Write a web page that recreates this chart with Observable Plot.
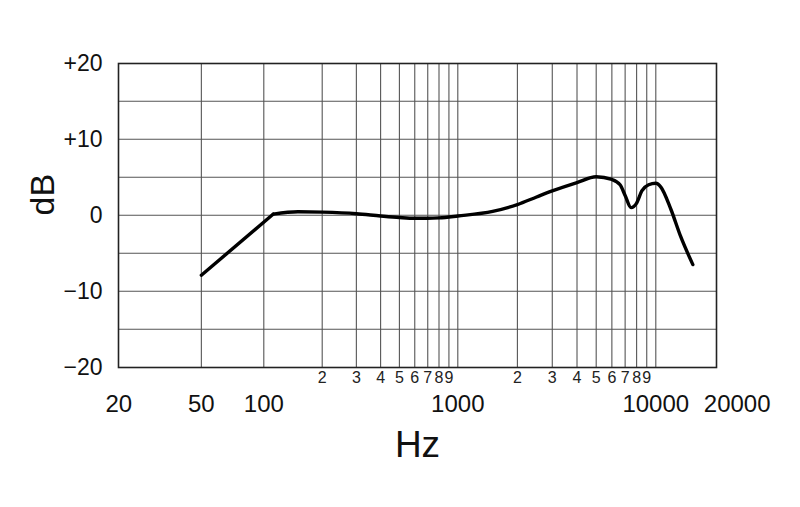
<!DOCTYPE html>
<html>
<head>
<meta charset="utf-8">
<script src="https://cdn.jsdelivr.net/npm/d3@7"></script>
<script src="https://cdn.jsdelivr.net/npm/@observablehq/plot@0.6"></script>
<style>
  html, body { margin: 0; padding: 0; background: #fff; }
  #chart svg { display: block; }
</style>
</head>
<body>
<div id="chart"></div>
<script>
// Frequency response data (Hz, dB)
const freq = [50, 112, 150, 200, 300, 400, 500, 600, 700, 800, 1000, 1500, 2000, 2500, 3000, 4000, 5000, 6000, 6600, 7000, 7500, 8000, 8500, 9200, 10000, 10600, 11900, 13300, 15300];
const db   = [-7.9, 0.15, 0.45, 0.4, 0.2, -0.1, -0.3, -0.4, -0.4, -0.35, -0.1, 0.5, 1.4, 2.4, 3.2, 4.3, 5.05, 4.7, 4.0, 2.6, 1.0, 1.6, 3.2, 4.0, 4.2, 3.7, 0.75, -2.8, -6.5];

// Grid and tick labels
const gridX = [50, 100, 200, 300, 400, 500, 600, 700, 800, 900, 1000, 2000, 3000, 4000, 5000, 6000, 7000, 8000, 9000, 10000];
const gridY = [-15, -10, -5, 0, 5, 10, 15];
const minorTicks = [200, 300, 400, 500, 600, 700, 800, 900, 2000, 3000, 4000, 5000, 6000, 7000, 8000, 9000];
const minorLabels = ["2", "3", "4", "5", "6", "7", "8", "9", "2", "3", "4", "5", "6", "7", "8", "9"];
const majorTicks = [20, 50, 100, 1000, 10000];
const majorLabels = ["20", "50", "100", "1000", "10000"];
const edgeTick = [20000];
const edgeLabel = ["20000"];
const yTicks = [20, 10, 0, -10, -20];
const yLabels = ["+20", "+10", "0", "\u221210", "\u221220"];

const data = freq.map((f, i) => ({f, v: db[i]}));
const rolloff = data.filter(d => d.f <= 112);   // straight low-frequency slope
const smooth = data.filter(d => d.f >= 112);    // smooth remainder
const font = "'Liberation Sans', Arial, sans-serif";

const chart = Plot.plot({
  width: 800,
  height: 507,
  marginLeft: 118,
  marginRight: 84,
  marginTop: 63,
  marginBottom: 140,
  style: {fontFamily: font, background: "#fff", color: "#111"},
  x: {type: "log", domain: [20, 100, 1000, 10000, 20000], range: [118.3, 263.3, 457.3, 655.3, 715.7], axis: null},
  y: {domain: [-20, 20], range: [366.7, 62.7], axis: null},
  marks: [
    Plot.ruleX(gridX, {x: d => d, stroke: "#555", strokeWidth: 1.1}),
    Plot.ruleY(gridY, {y: d => d, stroke: "#555", strokeWidth: 1.1}),
    Plot.frame({stroke: "#222", strokeWidth: 1.6}),
    Plot.line(rolloff, {x: "f", y: "v", stroke: "#000", strokeWidth: 3.4, curve: "linear", strokeLinejoin: "round"}),
    Plot.line(smooth, {x: "f", y: "v", stroke: "#000", strokeWidth: 3.4, curve: "monotone-x", strokeLinejoin: "round"}),
    Plot.text(yTicks, {y: d => d, text: (d, i) => yLabels[i], frameAnchor: "left", textAnchor: "end", dx: -16, fontSize: 23, fill: "#111"}),
    Plot.text(["dB"], {frameAnchor: "left", dx: -75, rotate: -90, fontSize: 34, fill: "#111"}),
    Plot.text(minorTicks, {x: d => d, text: (d, i) => minorLabels[i], frameAnchor: "bottom", dy: 15.5, fontSize: 16, fill: "#222"}),
    Plot.text(majorTicks, {x: d => d, text: (d, i) => majorLabels[i], frameAnchor: "bottom", dy: 44, fontSize: 24, fill: "#111"}),
    Plot.text(edgeTick, {x: d => d, text: (d, i) => edgeLabel[i], frameAnchor: "bottom", dy: 44, dx: 21, fontSize: 24, fill: "#111"}),
    Plot.text(["Hz"], {frameAnchor: "bottom", dy: 89, fontSize: 37, fill: "#111"})
  ]
});
document.getElementById("chart").appendChild(chart);
</script>
</body>
</html>
